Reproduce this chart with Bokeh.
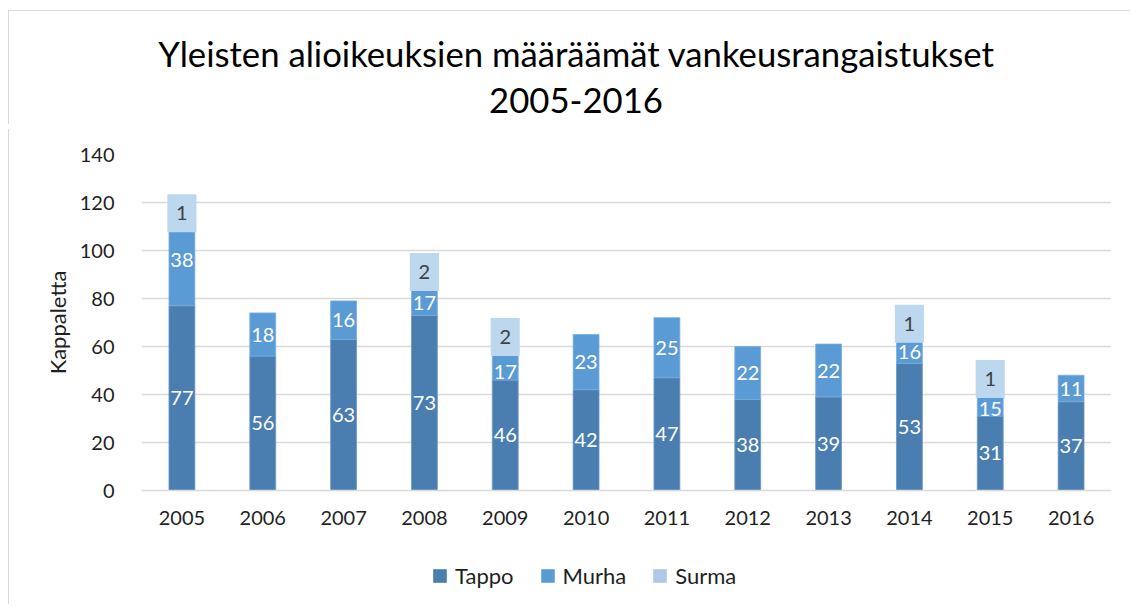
from bokeh.plotting import figure
from bokeh.models import (ColumnDataSource, FactorRange, Range1d, LabelSet,
                          Legend, LegendItem, FixedTicker, Div)
from bokeh.layouts import column
from bokeh.embed import file_html
from bokeh.resources import INLINE
from bokeh.core.properties import value

# ---- data ----
years = ["2005", "2006", "2007", "2008", "2009", "2010",
         "2011", "2012", "2013", "2014", "2015", "2016"]
tappo = [77, 56, 63, 73, 46, 42, 47, 38, 39, 53, 31, 37]
murha = [38, 18, 16, 17, 17, 23, 25, 22, 22, 16, 15, 11]
surma = [1, 0, 0, 2, 2, 0, 0, 0, 0, 1, 1, 0]
y_ticks = [0, 20, 40, 60, 80, 100, 120, 140]
series_names = ["Tappo", "Murha", "Surma"]
title_lines = ["Yleisten alioikeuksien määräämät vankeusrangaistukset", "2005-2016"]
y_label = "Kappaletta"

# label placement (style): Murha labels nudged down (px) where a Surma label box sits above
murha_label_nudge = [0, 0, 0, -8, -12, 0, 0, 0, 0, -8, -11, 0]

FONT = "Lato"
C_TAPPO = "#4A7EB1"
C_MURHA = "#5B9BD5"
C_SURMA = "#BDD7EE"
C_SURMA_LEG = "#AFC8E8"
TXT = "#1f1f1f"
BORDER = "1px solid #d9d9d9"

m_top = [a + b for a, b in zip(tappo, murha)]
src = ColumnDataSource(dict(
    x=years,
    t_bot=[0] * len(years), t_top=tappo,
    m_bot=tappo, m_top=m_top,
    t_mid=[t / 2 for t in tappo],
    m_mid=[a + b / 2 for a, b in zip(tappo, murha)],
    t_txt=[str(v) for v in tappo],
    m_txt=[str(v) for v in murha],
    m_nudge=murha_label_nudge,
    zero=[0] * len(years),
))
sidx = [i for i, s in enumerate(surma) if s > 0]
ssrc = ColumnDataSource(dict(
    x=[years[i] for i in sidx],
    s_bot=[m_top[i] for i in sidx],
    s_top=[m_top[i] + surma[i] for i in sidx],
    s_mid=[m_top[i] + surma[i] / 2 for i in sidx],
    s_txt=[str(surma[i]) for i in sidx],
    zero=[0] * len(sidx),
))

# ---- title ----
title = Div(text="<div style='box-sizing:border-box; width:1120px; text-align:center; "
                 "padding-left:14px; padding-top:20px; font-family:Lato; font-size:34.7px; "
                 "line-height:46px; color:#000000;'>"
                 + "<br>".join(title_lines) + "</div>",
            width=1122, height=114,
            styles={"border-left": BORDER, "border-top": BORDER,
                    "margin-left": "8px", "margin-top": "10px"})

# ---- main chart ----
p = figure(width=1122, height=415, x_range=FactorRange(*years, range_padding=0),
           y_range=Range1d(0, 140), output_backend="svg", toolbar_location=None,
           min_border_left=132, min_border_right=20, min_border_top=25,
           min_border_bottom=54)
p.styles = {"border-left": BORDER, "margin-left": "8px"}
p.outline_line_color = None
p.xgrid.grid_line_color = None
p.ygrid.grid_line_color = "#d9d9d9"
p.ygrid.grid_line_width = 1.3

p.yaxis.ticker = FixedTicker(ticks=y_ticks)
for ax in (p.xaxis[0], p.yaxis[0]):
    ax.major_tick_line_color = None
    ax.minor_tick_line_color = None
    ax.major_label_text_font = FONT
    ax.major_label_text_font_size = "20px"
    ax.major_label_text_color = TXT
p.yaxis.axis_line_color = None
p.xaxis.axis_line_color = "#d9d9d9"
p.xaxis.axis_line_width = 1.3
p.yaxis.major_label_standoff = 21
p.xaxis.major_label_standoff = 14
p.yaxis.axis_label = y_label
p.yaxis.axis_label_text_font = FONT
p.yaxis.axis_label_text_font_style = "normal"
p.yaxis.axis_label_text_font_size = "22px"
p.yaxis.axis_label_text_color = TXT
p.yaxis.axis_label_standoff = 6

W = 0.32
p.vbar(x="x", bottom="t_bot", top="t_top", width=W, source=src,
       fill_color=C_TAPPO, line_color="#6a96c4", line_width=0.8)
p.vbar(x="x", bottom="m_bot", top="m_top", width=W, source=src,
       fill_color=C_MURHA, line_color="#7aaede", line_width=0.8)
p.vbar(x="x", bottom="s_bot", top="s_top", width=W, source=ssrc,
       fill_color=C_SURMA, line_color=None)
p.rect(x="x", y="s_mid", width=0.36, height=38, height_units="screen", source=ssrc,
       fill_color=C_SURMA, line_color=None)

for col, txt, color, s, off in (("t_mid", "t_txt", "white", src, "zero"),
                                 ("m_mid", "m_txt", "white", src, "m_nudge"),
                                 ("s_mid", "s_txt", "#404040", ssrc, "zero")):
    p.add_layout(LabelSet(x="x", y=col, text=txt, source=s, y_offset=off,
                          text_align="center", text_baseline="middle", text_color=color,
                          text_font=value(FONT), text_font_size="20px"))

# ---- legend strip (its frame is aligned with the chart's frame by the column) ----
lg = figure(width=1122, height=60, x_range=Range1d(0, 1), y_range=Range1d(0, 1),
            output_backend="svg", toolbar_location=None,
            x_axis_location=None, y_axis_location=None,
            min_border_left=132, min_border_right=20, min_border_top=4, min_border_bottom=0)
lg.styles = {"border-left": BORDER, "margin-left": "8px"}
lg.grid.visible = False
lg.outline_line_color = None
# zero-height proxy bars: only their swatches appear in the legend
proxy = ColumnDataSource(dict(x=[0], top=[0], bottom=[0]))
leg_renderers = [lg.vbar(x="x", top="top", bottom="bottom", width=0, source=proxy,
                         fill_color=c, line_color=None)
                 for c in (C_TAPPO, C_MURHA, C_SURMA_LEG)]
legend = Legend(items=[LegendItem(label=n, renderers=[r]) for n, r in
                       zip(series_names, leg_renderers)],
                orientation="horizontal", location=(290, 15))
legend.border_line_color = None
legend.background_fill_alpha = 0
legend.padding = 0
legend.margin = 0
legend.spacing = 25
legend.label_standoff = 7
legend.glyph_width = 17
legend.glyph_height = 17
legend.label_text_font = FONT
legend.label_text_font_size = "22px"
legend.label_text_color = TXT
lg.add_layout(legend)

layout = column(title, p, lg, spacing=0)
open("out.html", "w").write(file_html(layout, INLINE))
